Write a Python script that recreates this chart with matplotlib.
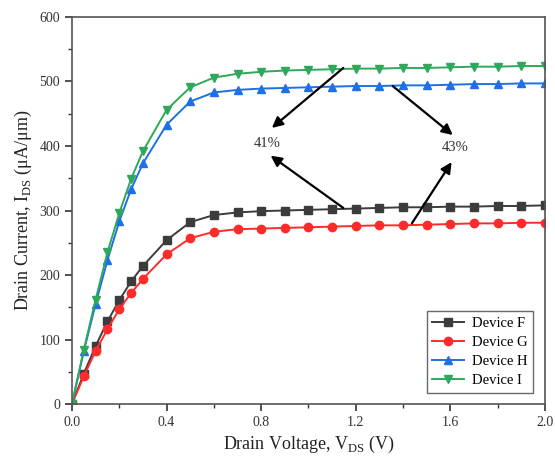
import matplotlib
matplotlib.use("Agg")
import matplotlib.pyplot as plt
from matplotlib.ticker import MultipleLocator

plt.rcParams['font.family'] = ['Liberation Serif', 'DejaVu Serif']
plt.rcParams['mathtext.fontset'] = 'custom'
plt.rcParams['mathtext.rm'] = 'Liberation Serif'

vds = [0.0, 0.05, 0.10, 0.15, 0.20, 0.25, 0.30, 0.4, 0.5, 0.6, 0.7, 0.8, 0.9,
       1.0, 1.1, 1.2, 1.3, 1.4, 1.5, 1.6, 1.7, 1.8, 1.9, 2.0]
dev_f = [0, 47, 90, 128, 161, 190, 214, 254, 282, 293, 297, 299, 300, 301,
         302, 303, 304, 305, 305, 306, 306, 307, 307, 308]
dev_g = [0, 43, 82, 116, 147, 172, 194, 232, 257, 267, 271, 272, 273, 274,
         275, 276, 277, 277, 278, 279, 280, 280, 281, 281]
dev_h = [0, 82, 155, 223, 283, 333, 373, 433, 469, 483, 487, 489, 490, 491,
         492, 493, 493, 494, 494, 495, 496, 496, 497, 497]
dev_i = [0, 84, 162, 235, 296, 349, 392, 456, 491, 506, 512, 515, 517, 518,
         519, 520, 520, 521, 521, 522, 523, 523, 524, 524]

labels = ['Device F', 'Device G', 'Device H', 'Device I']
colors = ['#3c3c3c', '#ff2b2b', '#1f6fe6', '#2ea85a']
markers = ['s', 'o', '^', 'v']

fig = plt.figure(figsize=(5.55, 4.67), dpi=100)
ax = fig.add_axes([0.1297, 0.1349, 0.8523, 0.8287])

for y, lab, c, m in zip([dev_f, dev_g, dev_h, dev_i], labels, colors, markers):
    ax.plot(vds, y, color=c, marker=m, markersize=6, linewidth=1.4,
            markeredgecolor=c, label=lab)

ax.set_xlim(0, 2.0)
ax.set_ylim(0, 600)
ax.xaxis.set_major_locator(MultipleLocator(0.4))
ax.xaxis.set_minor_locator(MultipleLocator(0.2))
ax.yaxis.set_major_locator(MultipleLocator(100))
ax.yaxis.set_minor_locator(MultipleLocator(50))
ax.xaxis.set_major_formatter(matplotlib.ticker.FormatStrFormatter('%.1f'))
ax.tick_params(which='major', direction='out', length=5, width=1.2,
               labelsize=10, colors='#333333')
ax.tick_params(which='minor', direction='out', length=3, width=1.0,
               colors='#333333')
for s in ax.spines.values():
    s.set_linewidth(1.2)
    s.set_color('#555555')

ax.set_xlabel(r'Drain Voltage, V$_{\mathrm{DS}}$ (V)', fontsize=13, color='#222222')
ax.set_ylabel('Drain Current, I$_{\\mathrm{DS}}$ (μA/μm)', fontsize=13,
              color='#222222')

leg = ax.legend(loc='lower right', fontsize=10.5, frameon=True, fancybox=False,
                edgecolor='#444444', handlelength=2.2, borderpad=0.4,
                labelspacing=0.4, handletextpad=0.5, borderaxespad=0,
                bbox_to_anchor=(0.975, 0.028))
leg.get_frame().set_linewidth(1.0)

arrow = dict(arrowstyle='-|>', color='black', lw=1.6, mutation_scale=16,
             shrinkA=0, shrinkB=0)
ax.text(0.826, 404, '41%', fontsize=10.5, ha='center', va='center', color='#333333')
ax.text(1.62, 397, '43%', fontsize=10.5, ha='center', va='center', color='#333333')
ax.annotate('', xy=(0.845, 428), xytext=(1.147, 521), arrowprops=arrow)
ax.annotate('', xy=(0.84, 385), xytext=(1.147, 304), arrowprops=arrow)
ax.annotate('', xy=(1.61, 417), xytext=(1.356, 493), arrowprops=arrow)
ax.annotate('', xy=(1.605, 375), xytext=(1.437, 280), arrowprops=arrow)

fig.savefig('out.png', dpi=100)
